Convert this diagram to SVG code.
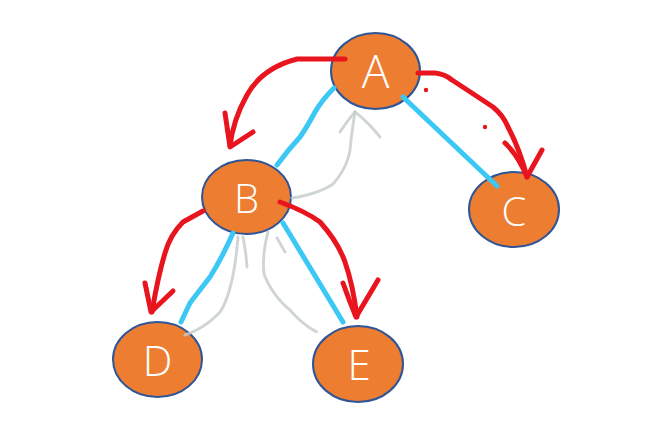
<svg xmlns="http://www.w3.org/2000/svg" width="668" height="426" viewBox="0 0 668 426">
<style>
.node ellipse{fill:#ED7D31;stroke:#2F5597;stroke-width:2}
.node text{fill:#fff;font-family:"Open Sans","Noto Sans","DejaVu Sans",sans-serif;font-weight:300;text-anchor:middle}
.edge{fill:none;stroke:#3CC8F5;stroke-width:5;stroke-linecap:round;stroke-linejoin:round}
.red{fill:none;stroke:#E8141E;stroke-width:5;stroke-linecap:round;stroke-linejoin:round}
.pencil{fill:none;stroke:#C3CACA;stroke-width:3;stroke-linecap:round;stroke-dasharray:1.5 1.5;opacity:0.8}
</style>
<rect width="668" height="426" fill="#fff"/>
<g id="node-A" class="node"><ellipse cx="375.5" cy="71" rx="44.5" ry="38"/><text x="375.5" y="88" font-size="46">A</text></g>
<g id="node-B" class="node"><ellipse cx="246.5" cy="197" rx="44.5" ry="37"/><text x="246.5" y="213" font-size="40">B</text></g>
<g id="node-C" class="node"><ellipse cx="514" cy="209.5" rx="45" ry="37.5"/><text x="514" y="226" font-size="40">C</text></g>
<g id="node-D" class="node"><ellipse cx="157.5" cy="359.5" rx="44.5" ry="37.5"/><text x="157.5" y="376" font-size="42">D</text></g>
<g id="node-E" class="node"><ellipse cx="358" cy="364" rx="45" ry="38"/><text x="359" y="380" font-size="42">E</text></g>
<g id="connectors">
<path class="edge" d="M334,88 Q322,100 315,112 Q307,127 300,137 Q288,150 277,165"/>
<path class="edge" d="M403,97 L497,186"/>
<path class="edge" d="M233,233 Q222,258 210,277 Q196,295 190,303 L181,322"/>
<path class="edge" d="M283,223 L343,322"/>
<path class="red" d="M345,59 L297,59 Q262,68 247,95 Q233,120 230,146"/>
<path class="red" d="M225,113 L230,147 L253,132"/>
<path class="red" d="M418,73 L435,73 Q445,74 452,80 Q478,97 493,107 Q503,115 508,127 Q520,150 527,177"/>
<path class="red" d="M505,143 Q518,155 527,177 L542,150"/>
<circle cx="426" cy="90" r="2.2" fill="#E8141E"/>
<circle cx="485" cy="127" r="2.2" fill="#E8141E"/>
<path class="red" d="M203,211 L183,222 Q170,235 165,253 Q158,276 152,312"/>
<path class="red" d="M145,283 L151,312 L173,291"/>
<path class="red" d="M280,202 Q305,211 320,222 Q338,242 345,262 Q353,285 357,317"/>
<path class="red" d="M343,283 Q349,300 356,317 L378,280"/>
<path class="pencil" d="M292,198 Q318,194 333,184 Q347,168 350,150 Q352,130 355,112"/>
<path class="pencil" d="M340,132 Q348,120 355,112 Q368,122 380,137"/>
<path class="pencil" d="M238,237 Q236,260 233,275 Q228,300 220,312 Q205,328 185,335"/>
<path class="pencil" d="M243,237 Q246,252 247,267"/>
<path class="pencil" d="M268,232 Q262,255 264,274 Q272,295 290,310 Q303,325 317,332"/>
<path class="pencil" d="M277,238 L285,252"/>
</g>
</svg>
